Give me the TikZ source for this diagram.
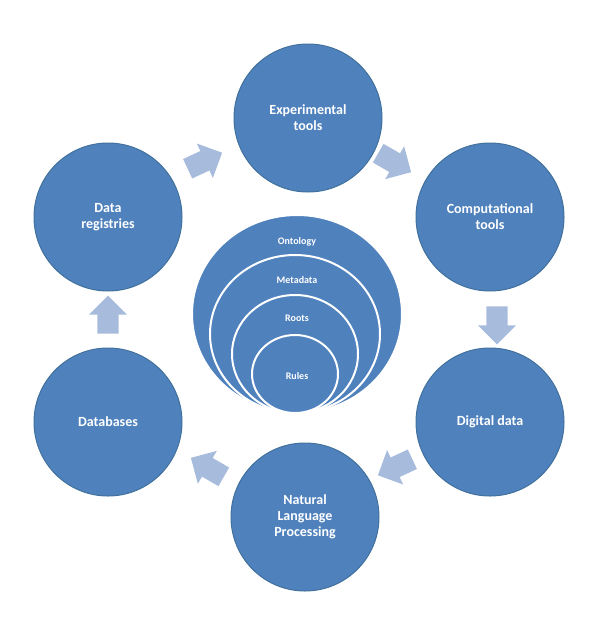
\documentclass[tikz,border=0pt]{standalone}
\usepackage{fontspec}
\setmainfont{Carlito}
\usetikzlibrary{shapes.arrows}
\definecolor{cycleblue}{HTML}{4F81BD}
\definecolor{cycleedge}{HTML}{41719C}
\definecolor{arrowblue}{HTML}{A7BCDD}
\tikzset{
  stage/.style = {circle, fill=cycleblue, draw=cycleedge, line width=1pt,
    minimum size=148pt, text=white, font=\bfseries\fontsize{14}{16}\selectfont, align=center},
  flowarrow/.style = {single arrow, fill=arrowblue, draw=none, minimum height=38pt,
    minimum width=38pt, single arrow head extend=4pt, inner sep=5pt},
  layer/.style = {fill=cycleblue, draw=white, line width=2pt},
  layertext/.style = {text=white, font=\bfseries\fontsize{10}{12}\selectfont}
}
\begin{document}
\begin{tikzpicture}[x=1pt,y=-1pt]
        \useasboundingbox (0,0) rectangle (600,640);

        % outer stages
        \node[stage] (exp)  at (308,118) {Experimental\\tools};
        \node[stage] (comp) at (490,217) {Computational\\tools};
        \node[stage] (dig)  at (490,422) {Digital data};
        \node[stage] (nlp)  at (305,517) {Natural\\Language\\Processing};
        \node[stage] (db)   at (108,422) {Databases};
        \node[stage] (reg)  at (108,217) {Data\\registries};

        % arrows between stages
        \node[flowarrow, rotate=25]   (a1) at (200,163) {};
        \node[flowarrow, rotate=-30]  (a2) at (390,160) {};
        \node[flowarrow, rotate=-90]  (a3) at (497,320) {};
        \node[flowarrow, rotate=-155] (a4) at (400,465) {};
        \node[flowarrow, rotate=150]  (a5) at (212,470) {};
        \node[flowarrow, rotate=90]   (a6) at (108,320) {};

        % nested core
        \path[layer] (297,314) ellipse (105 and 99);
        \path[layer] (295,334) ellipse (85 and 79);
        \path[layer] (295,354) ellipse (63 and 59);
        \path[layer] (295,374) ellipse (43 and 39);
        \node[layertext] (ont)  at (297,242) {Ontology};
        \node[layertext] (meta) at (297,280) {Metadata};
        \node[layertext] (root) at (297,318) {Roots};
        \node[layertext] (rule) at (297,376) {Rules};
    \end{tikzpicture}
\end{document}
